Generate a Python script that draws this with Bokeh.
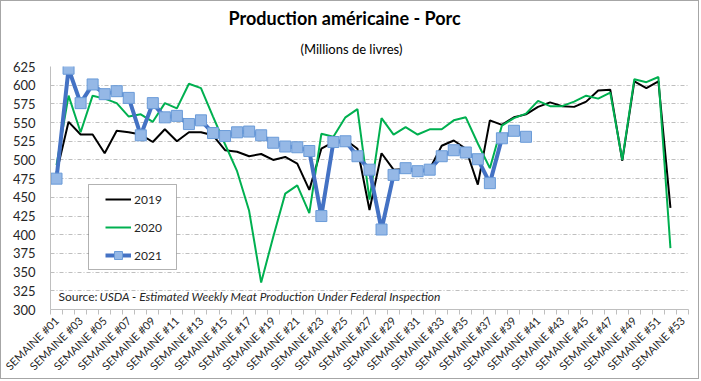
import math
from bokeh.plotting import figure
from bokeh.models import Range1d, FixedTicker, Legend, LegendItem, Label, BoxAnnotation, Title
from bokeh.embed import file_html
from bokeh.resources import INLINE

# ---- data ----
weeks_2019 = list(range(1, 53))
prod_2019 = [483, 551, 534, 534, 509, 539, 537, 534, 524, 541, 525, 537, 537, 533, 513,
             511, 505, 508, 500, 504, 495, 460, 515, 524, 527, 515, 433, 509, 487, 488,
             484, 488, 519, 526, 515, 467, 553, 547, 557, 561, 571, 577, 572, 571, 578,
             593, 594, 499, 605, 596, 605, 436]
weeks_2020 = list(range(1, 53))
prod_2020 = [493, 586, 537, 586, 582, 576, 558, 561, 551, 576, 569, 602, 596, 558, 521,
             485, 432, 336, 397, 455, 466, 429, 535, 531, 557, 568, 447, 556, 534, 544,
             534, 541, 541, 553, 557, 522, 489, 546, 556, 562, 579, 572, 572, 578, 586,
             582, 590, 500, 608, 604, 611, 382]
weeks_2021 = list(range(1, 41))
prod_2021 = [475, 622, 576, 601, 588, 592, 583, 533, 576, 557, 559, 548, 553, 536, 532,
             537, 538, 533, 523, 518, 517, 512, 425, 524, 525, 505, 487, 407, 480, 489,
             485, 487, 505, 513, 510, 501, 469, 529, 539, 531]
y_ticks = [300, 325, 350, 375, 400, 425, 450, 475, 500, 525, 550, 575, 600, 625]
week_ticks = list(range(1, 54, 2))
week_tick_labels = ["SEMAINE #%02d" % w for w in week_ticks]
series_names = ["2019", "2020", "2021"]

FONT = "Lato"

p = figure(width=699, height=379, x_range=Range1d(0.5, 53.5), y_range=Range1d(300, 625),
           output_backend="svg", toolbar_location=None,
           min_border_left=49, min_border_right=12, min_border_top=65, min_border_bottom=69)
p.outline_line_color = None
p.background_fill_color = "white"
p.border_fill_color = "white"
p.styles = {"border": "1px solid #A6A6A6"}

# titles (subtitle first: it sits closest to the plot)
p.add_layout(Title(text="(Millions de livres)", align="left", offset=250,
                   text_font=FONT, text_font_size="13px", text_font_style="normal",
                   text_color="#000000", standoff=20), "above")
p.add_layout(Title(text="Production américaine - Porc", align="left", offset=178,
                   text_font=FONT, text_font_size="18px", text_font_style="bold",
                   text_color="#000000", standoff=0), "above")

p.xgrid.visible = False
p.ygrid.grid_line_color = "#BFBFBF"
p.ygrid.grid_line_dash = "4 2 1 2"
p.ygrid.grid_line_width = 1

p.yaxis.ticker = FixedTicker(ticks=y_ticks)
p.yaxis.axis_line_color = "#BFBFBF"
p.yaxis.major_tick_in = 0
p.yaxis.major_tick_out = 0
p.yaxis.minor_tick_line_color = None
p.yaxis.major_label_standoff = 15
p.yaxis.major_label_text_font = FONT
p.yaxis.major_label_text_font_size = "13px"
p.yaxis.major_label_text_color = "#262626"

p.xaxis.ticker = FixedTicker(ticks=week_ticks, minor_ticks=[k + 0.5 for k in range(54)])
p.xaxis.major_label_overrides = dict(zip(week_ticks, week_tick_labels))
p.xaxis.major_label_orientation = math.pi / 4
p.xaxis.axis_line_color = "#BFBFBF"
p.xaxis.major_tick_in = 0
p.xaxis.major_tick_out = 0
p.xaxis.minor_tick_in = 0
p.xaxis.minor_tick_out = 5
p.xaxis.minor_tick_line_color = "#BFBFBF"
p.xaxis.major_label_standoff = 4
p.xaxis.major_label_text_font = FONT
p.xaxis.major_label_text_font_size = "11px"
p.xaxis.major_label_text_color = "#262626"

r19 = p.line(weeks_2019, prod_2019, line_color="#000000", line_width=2)
r20 = p.line(weeks_2020, prod_2020, line_color="#00B050", line_width=2)
r21 = p.line(weeks_2021, prod_2021, line_color="#4472C4", line_width=4)
r21m = p.scatter(weeks_2021, prod_2021, marker="square", size=11,
                 fill_color="#95B8E6", line_color="#6A9BD8", line_width=1)

box = BoxAnnotation(left=38, right=126, top=125, bottom=40,
                    left_units="screen", right_units="screen",
                    top_units="screen", bottom_units="screen",
                    fill_color="white", fill_alpha=1.0,
                    line_color="black", line_width=1, level="annotation")
p.add_layout(box)

legend = Legend(items=[LegendItem(label=series_names[0], renderers=[r19]),
                       LegendItem(label=series_names[1], renderers=[r20]),
                       LegendItem(label=series_names[2], renderers=[r21, r21m])],
                location=(55, 44), padding=0, spacing=8, glyph_width=26, glyph_height=20,
                label_height=20, label_standoff=3, label_text_font=FONT,
                label_text_font_size="12px", label_text_color="#262626",
                border_line_alpha=0, background_fill_alpha=0)
p.add_layout(legend)

p.add_layout(Label(x=8, y=13, x_units="screen", y_units="screen",
                   text="Source:", text_align="left", text_baseline="middle",
                   text_font=FONT, text_font_size="12px", text_color="#262626"))
p.add_layout(Label(x=49, y=13, x_units="screen", y_units="screen",
                   text="USDA - Estimated Weekly Meat Production Under Federal Inspection",
                   text_align="left", text_baseline="middle", text_font=FONT,
                   text_font_style="italic", text_font_size="12px", text_color="#262626"))

open("out.html", "w").write(file_html(p, INLINE))
